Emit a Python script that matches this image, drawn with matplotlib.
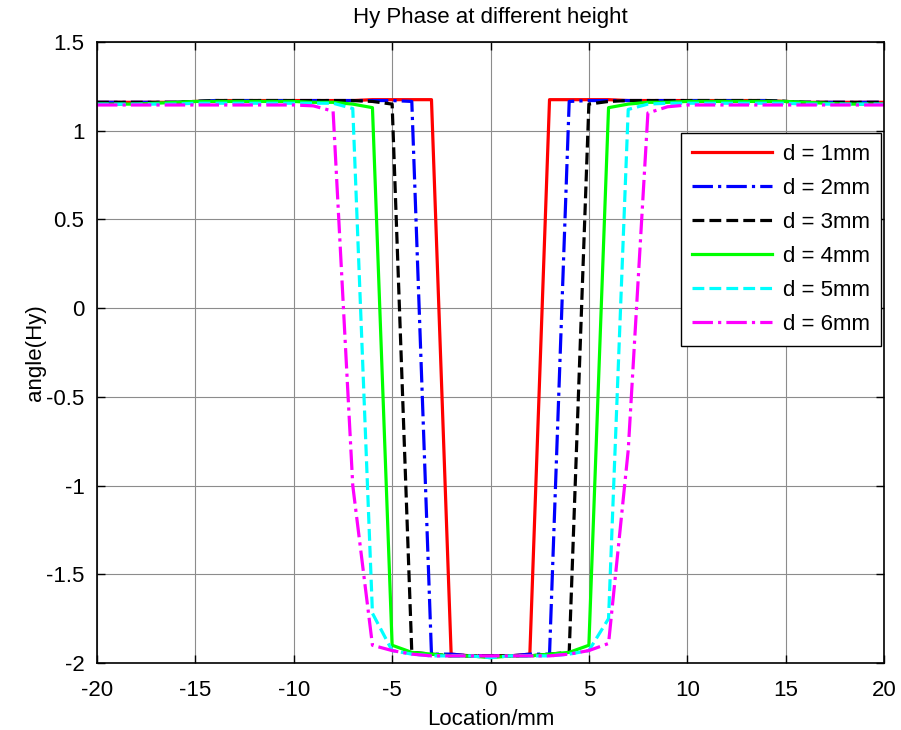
import matplotlib
matplotlib.use("Agg")
import matplotlib.pyplot as plt
import numpy as np

plt.rcParams.update({
    "font.family": ["Liberation Sans", "DejaVu Sans"],
    "font.size": 16,
})

# Location grid (mm)
x = np.arange(-20, 21)

# Phase of Hy for each height
top_edge = [1.16, 1.16, 1.16, 1.16, 1.16, 1.165, 1.17, 1.17, 1.17, 1.17, 1.17]  # x=-20..-10

d1 = top_edge + [1.17, 1.17, 1.17, 1.175, 1.175, 1.175, 1.175,
                 -1.95, -1.96, -1.96, -1.96, -1.95,
                 1.175, 1.175, 1.175, 1.175, 1.17, 1.17, 1.17] + top_edge[::-1]
d2 = top_edge + [1.17, 1.17, 1.17, 1.17, 1.17, 1.165,
                 -1.95, -1.95, -1.96, -1.96, -1.96, -1.95, -1.95,
                 1.165, 1.17, 1.17, 1.17, 1.17, 1.17] + top_edge[::-1]
d3 = top_edge + [1.17, 1.17, 1.17, 1.165, 1.15,
                 -1.94, -1.95, -1.96, -1.96, -1.96, -1.96, -1.96, -1.95, -1.94,
                 1.15, 1.165, 1.17, 1.17, 1.17] + top_edge[::-1]
d4 = [1.15, 1.15, 1.15, 1.155, 1.16, 1.165, 1.165, 1.165, 1.165, 1.165, 1.165,
      1.16, 1.16, 1.15, 1.13,
      -1.90, -1.94, -1.95, -1.96, -1.96, -1.97, -1.96, -1.96, -1.95, -1.94, -1.90,
      1.13, 1.15, 1.16, 1.16,
      1.165, 1.165, 1.165, 1.165, 1.165, 1.165, 1.16, 1.155, 1.15, 1.15, 1.15]
d5 = [1.15, 1.15, 1.15, 1.15, 1.15, 1.155, 1.155, 1.155, 1.155, 1.155, 1.155,
      1.155, 1.155, 1.125, -1.72,
      -1.93, -1.95, -1.96, -1.96, -1.96, -1.97, -1.96, -1.96, -1.96, -1.95, -1.93,
      -1.75, 1.12, 1.15, 1.155,
      1.155, 1.155, 1.155, 1.155, 1.155, 1.155, 1.15, 1.15, 1.15, 1.15, 1.15]
d6 = [1.145, 1.145, 1.145, 1.145, 1.145, 1.145, 1.145, 1.145, 1.145, 1.145, 1.145,
      1.14, 1.11, -1.0, -1.90,
      -1.93, -1.95, -1.96, -1.96, -1.96, -1.96, -1.96, -1.96, -1.96, -1.95, -1.93,
      -1.89, -0.8, 1.10, 1.135,
      1.145, 1.145, 1.145, 1.145, 1.145, 1.145, 1.145, 1.145, 1.145, 1.145, 1.145]

series = [d1, d2, d3, d4, d5, d6]
labels = ["d = 1mm", "d = 2mm", "d = 3mm", "d = 4mm", "d = 5mm", "d = 6mm"]
colors = ["#ff0000", "#0000ff", "#000000", "#00ff00", "#00ffff", "#ff00ff"]
styles = ["-", "-.", "--", "-", "--", "-."]

xticks = [-20, -15, -10, -5, 0, 5, 10, 15, 20]
yticks = [-2, -1.5, -1, -0.5, 0, 0.5, 1, 1.5]
ytick_labels = ["-2", "-1.5", "-1", "-0.5", "0", "0.5", "1", "1.5"]

fig = plt.figure(figsize=(9.01, 7.30), dpi=100)
ax = fig.add_axes([97 / 901, 1 - 663 / 730, 787 / 901, 621 / 730])

for y, lab, c, ls in zip(series, labels, colors, styles):
    ax.plot(x, y, ls, color=c, lw=2.3, label=lab)

ax.set_xlim(-20, 20)
ax.set_ylim(-2, 1.5)
ax.set_xticks(xticks)
ax.set_xticklabels([str(t) for t in xticks])
ax.set_yticks(yticks)
ax.set_yticklabels(ytick_labels)
ax.tick_params(direction="in", top=True, right=True, length=6, width=1,
               labelsize=16)
ax.tick_params(axis="x", pad=12)
ax.tick_params(axis="y", pad=9)
ax.grid(True, color="0.55", lw=0.8)
for s in ax.spines.values():
    s.set_linewidth(1.2)

ax.set_title("Hy Phase at different height", fontsize=16, pad=14)
ax.set_xlabel("Location/mm", fontsize=16, labelpad=6)
ax.set_ylabel("angle(Hy)", fontsize=16, labelpad=0)

leg = ax.legend(loc="upper right", bbox_to_anchor=(0.9962, 0.8535),
                borderaxespad=0, fancybox=False, framealpha=1,
                edgecolor="black", handlelength=3.6, labelspacing=0.58,
                handletextpad=0.5, borderpad=0.5, fontsize=16)
leg.get_frame().set_linewidth(1.0)

fig.savefig("out.png", dpi=100)
